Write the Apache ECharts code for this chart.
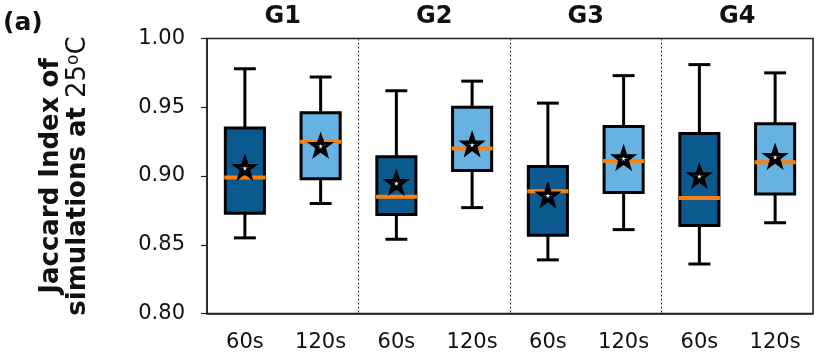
<!DOCTYPE html>
<html>
<head>
<meta charset="utf-8">
<script src="https://cdn.jsdelivr.net/npm/echarts@6/dist/echarts.min.js"></script>
<style>
  html, body { margin: 0; padding: 0; background: #fff; }
  #chart { width: 830px; height: 356px; }
</style>
</head>
<body>
<div id="chart"></div>
<script>
// groups on the top axis, durations under each box
const groups = ["G1", "G2", "G3", "G4"];
const durations = ["60s", "120s"];
const categories = ["G1|60s", "G1|120s", "G2|60s", "G2|120s", "G3|60s", "G3|120s", "G4|60s", "G4|120s"];

// box statistics
const whiskerLow = [0.855, 0.880, 0.854, 0.877, 0.839, 0.861, 0.836, 0.866];
const q1 = [0.873, 0.898, 0.872, 0.904, 0.857, 0.888, 0.864, 0.887];
const median = [0.899, 0.925, 0.885, 0.920, 0.889, 0.911, 0.884, 0.910];
const q3 = [0.935, 0.946, 0.914, 0.950, 0.907, 0.936, 0.931, 0.938];
const whiskerHigh = [0.978, 0.972, 0.962, 0.969, 0.953, 0.973, 0.981, 0.975];
const means = [0.906, 0.922, 0.895, 0.923, 0.886, 0.913, 0.900, 0.914];

const yMin = 0.8;
const yMax = 1.0;
const yStep = 0.05;

const colors = ["#0a5a8f", "#66b2e3"]; // 60s, 120s
const font = "DejaVu Sans";
const star = "path://M50,0 L62,35 L99,36 L69,58 L80,95 L50,73 L20,95 L31,58 L1,36 L38,35 Z";

const chart = echarts.init(document.getElementById("chart"));

const boxData = categories.map((c, i) => [i, whiskerLow[i], q1[i], median[i], q3[i], whiskerHigh[i]]);

const renderBox = (params, api) => {
  const i = api.value(0);
  const band = api.size([1, 0])[0];
  const half = band * 0.258;
  const cap = half * 0.56;
  const x = api.coord([i, 0])[0];
  const yLo = api.coord([i, api.value(1)])[1];
  const yQ1 = api.coord([i, api.value(2)])[1];
  const yMed = api.coord([i, api.value(3)])[1];
  const yQ3 = api.coord([i, api.value(4)])[1];
  const yHi = api.coord([i, api.value(5)])[1];
  const black = { stroke: "#000", lineWidth: 3 };
  return {
    type: "group",
    children: [
      { type: "line", shape: { x1: x, y1: yHi, x2: x, y2: yQ3 }, style: black },
      { type: "line", shape: { x1: x, y1: yQ1, x2: x, y2: yLo }, style: black },
      { type: "line", shape: { x1: x - cap, y1: yHi, x2: x + cap, y2: yHi }, style: black },
      { type: "line", shape: { x1: x - cap, y1: yLo, x2: x + cap, y2: yLo }, style: black },
      {
        type: "rect",
        shape: { x: x - half, y: yQ3, width: half * 2, height: yQ1 - yQ3 },
        style: { fill: colors[i % 2], stroke: "#000", lineWidth: 3 },
      },
      {
        type: "line",
        shape: { x1: x - half - 1, y1: yMed, x2: x + half + 1, y2: yMed },
        style: { stroke: "#ff7f0e", lineWidth: 4 },
      },
    ],
  };
};

const options = {
  animation: false,
  grid: {
    left: 207,
    right: 17,
    top: 38.5,
    bottom: 42.5,
    show: true,
    borderColor: "#222",
    borderWidth: 1.5,
  },
  xAxis: [
    {
      type: "category",
      data: categories,
      axisLine: { lineStyle: { color: "#222", width: 1.5 } },
      axisTick: { alignWithLabel: true, length: 6, lineStyle: { color: "#222", width: 1.2 } },
      axisLabel: {
        color: "#111",
        fontFamily: font,
        fontSize: 21,
        margin: 19,
        formatter: (v) => v.split("|")[1],
      },
      splitLine: { show: false },
    },
    {
      type: "category",
      position: "top",
      data: groups,
      axisLine: { show: false },
      axisTick: { show: false },
      axisLabel: { color: "#111", fontFamily: font, fontSize: 24, fontWeight: "bold", margin: 10 },
      splitLine: { show: true, lineStyle: { color: "#333", width: 1, type: [2, 2] } },
    },
  ],
  yAxis: {
    type: "value",
    min: yMin,
    max: yMax,
    interval: yStep,
    axisLine: { show: true, lineStyle: { color: "#222", width: 1.5 } },
    axisTick: { show: true, length: 6, lineStyle: { color: "#222", width: 1.2 } },
    axisLabel: {
      color: "#111",
      fontFamily: font,
      fontSize: 21,
      margin: 22,
      formatter: (v) => v.toFixed(2),
    },
    splitLine: { show: false },
    name: "{b|Jaccard Index of}\n{b|simulations at }{n|25}{sup|o}{n|C}",
    nameLocation: "middle",
    nameGap: 115,
    nameTextStyle: {
      lineHeight: 27,
      rich: {
        b: { fontFamily: font, fontSize: 26, fontWeight: "bold", color: "#111", lineHeight: 27 },
        n: { fontFamily: font, fontSize: 26, color: "#111", lineHeight: 27 },
        sup: { fontFamily: font, fontSize: 17, color: "#111", verticalAlign: "top", lineHeight: 27 },
      },
    },
  },
  graphic: [
    {
      type: "text",
      left: 3,
      top: 11,
      style: { text: "(a)", fontFamily: font, fontSize: 25, fontWeight: "bold", fill: "#111" },
    },
  ],
  series: [
    {
      type: "custom",
      renderItem: renderBox,
      data: boxData,
      encode: { x: 0, y: [1, 2, 3, 4, 5] },
      z: 2,
    },
    {
      type: "scatter",
      data: means.map((m, i) => [i, m]),
      symbol: star,
      symbolSize: 16,
      itemStyle: { color: "#fff", borderColor: "#000", borderWidth: 4, opacity: 1 },
      z: 3,
    },
  ],
};

chart.setOption(options);
</script>
</body>
</html>
